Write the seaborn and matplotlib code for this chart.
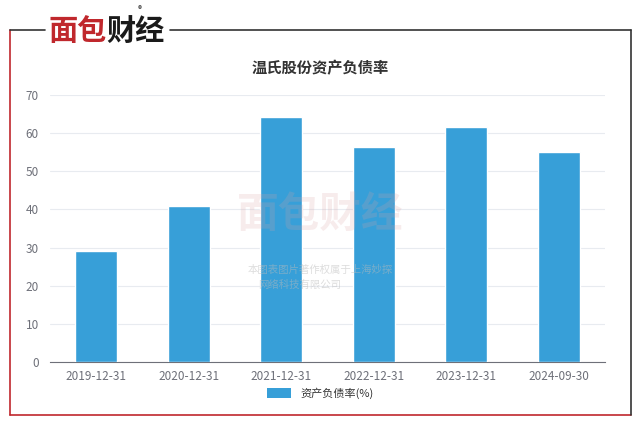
import pandas as pd
import matplotlib.pyplot as plt
from matplotlib.lines import Line2D
from matplotlib.patches import Patch
import seaborn as sns

# data
dates = ['2019-12-31', '2020-12-31', '2021-12-31', '2022-12-31', '2023-12-31', '2024-09-30']
ratio = [29.0, 40.9, 64.2, 56.4, 61.6, 55.0]
series_name = '资产负债率(%)'

df = pd.DataFrame({'date': dates, 'ratio': ratio})

sns.set_style('white')
plt.rcParams['font.family'] = ['Noto Sans CJK SC', 'DejaVu Sans']

fig = plt.figure(figsize=(6.4, 4.24), dpi=100)
ax = fig.add_axes([50 / 640, 1 - 362 / 424, 555 / 640, 267 / 424])

bar_color = '#379fd8'
sns.barplot(data=df, x='date', y='ratio', color=bar_color, width=0.45,
            saturation=1, ax=ax, zorder=3)

ax.set_ylim(0, 70)
ax.set_yticks(range(0, 71, 10))
ax.set_xlim(-0.5, len(dates) - 0.5)
ax.yaxis.grid(True, color='#e8ebf0', linewidth=0.8, zorder=0)
ax.xaxis.grid(False)
for s in ['top', 'right', 'left']:
    ax.spines[s].set_visible(False)
ax.spines['bottom'].set_color('#6e7079')
ax.spines['bottom'].set_linewidth(0.8)
ax.set_xticks([i - 0.5 for i in range(len(dates) + 1)], minor=True)
ax.tick_params(axis='x', which='minor', length=4, color='#6e7079', width=0.8)
ax.tick_params(axis='x', which='major', length=0, labelsize=8.5, labelcolor='#6e7079', pad=6)
ax.tick_params(axis='y', length=0, labelsize=8.5, labelcolor='#6e7079', pad=8)
ax.set_xlabel('')
ax.set_ylabel('')

# title
fig.text(0.5, 1 - 68 / 424, '温氏股份资产负债率', ha='center', va='center',
         fontsize=11, fontweight='bold', color='#333333')

# legend
ax.legend(handles=[Patch(facecolor=bar_color, edgecolor='none', label=series_name)],
          loc='center', bbox_to_anchor=(0.5, 1 - 393 / 424), bbox_transform=fig.transFigure,
          frameon=False, fontsize=8, handlelength=2.2, handleheight=1.0,
          labelcolor='#333333')

# watermark
fig.text(0.5, 1 - 215 / 424, '面包财经', ha='center', va='center', fontsize=30,
         fontweight='bold', color='#d9a0a3', alpha=0.2)
fig.text(0.5, 1 - 270 / 424, '本图表图片著作权属于上海妙探', ha='center', va='center',
         fontsize=7.5, color='#bbbbbb', alpha=0.5)
fig.text(0.468, 1 - 285 / 424, '网络科技有限公司', ha='center', va='center',
         fontsize=7.5, color='#bbbbbb', alpha=0.5)

# frame around the chart
red = '#c0282d'
dark = '#333333'
fig.add_artist(Line2D([10 / 640, 10 / 640], [1 - 30 / 424, 1 - 415 / 424],
                      transform=fig.transFigure, color=red, linewidth=1.2))
fig.add_artist(Line2D([10 / 640, 631 / 640], [1 - 415 / 424, 1 - 415 / 424],
                      transform=fig.transFigure, color=red, linewidth=1.2))
fig.add_artist(Line2D([631 / 640, 631 / 640], [1 - 30 / 424, 1 - 415 / 424],
                      transform=fig.transFigure, color=dark, linewidth=1.2))
fig.add_artist(Line2D([10 / 640, 45 / 640], [1 - 30 / 424, 1 - 30 / 424],
                      transform=fig.transFigure, color=dark, linewidth=1.2))
fig.add_artist(Line2D([170 / 640, 631 / 640], [1 - 30 / 424, 1 - 30 / 424],
                      transform=fig.transFigure, color=dark, linewidth=1.2))

# logo
fig.text(48 / 640, 1 - 31 / 424, '面包', ha='left', va='center', fontsize=21,
         fontweight='heavy', color=red)
fig.text(106 / 640, 1 - 31 / 424, '财经', ha='left', va='center', fontsize=21,
         fontweight='heavy', color='#1a1a1a')
fig.text(140 / 640, 1 - 10 / 424, '®', ha='center', va='center', fontsize=6, color='#333333')

plt.savefig('out.png', dpi=100)
